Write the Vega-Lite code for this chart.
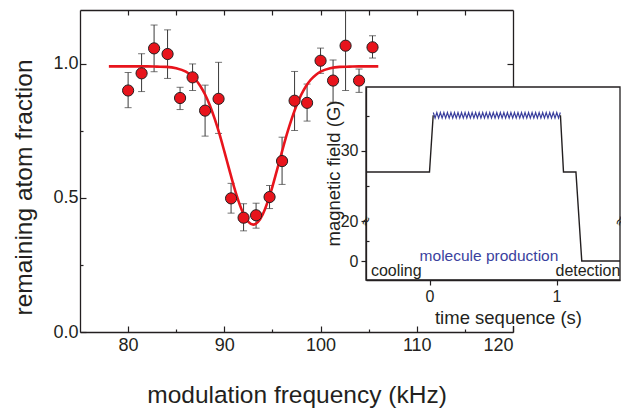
{
  "$schema": "https://vega.github.io/schema/vega-lite/v6.json",
  "width": 433,
  "height": 322,
  "autosize": {"type": "none"},
  "padding": {"left": 80, "top": 10, "right": 108, "bottom": 77},
  "background": "white",
  "config": {
    "view": {"stroke": null},
    "font": "Liberation Sans",
    "axis": {"grid": false, "domainColor": "#231f20", "tickColor": "#231f20", "labelColor": "#231f20", "titleColor": "#231f20", "titleFontWeight": "normal", "domainWidth": 1.3, "tickWidth": 1.2, "labelFont": "Liberation Sans", "titleFont": "Liberation Sans"}
  },
  "datasets": {
    "pts": [
      {"f": 80.0, "r": 0.900, "lo": 0.836, "hi": 0.967},
      {"f": 81.4, "r": 0.964, "lo": 0.896, "hi": 1.037},
      {"f": 82.7, "r": 1.057, "lo": 0.970, "hi": 1.144},
      {"f": 84.1, "r": 1.036, "lo": 0.945, "hi": 1.126},
      {"f": 85.4, "r": 0.872, "lo": 0.829, "hi": 0.912},
      {"f": 86.7, "r": 0.949, "lo": 0.900, "hi": 0.999},
      {"f": 88.0, "r": 0.825, "lo": 0.730, "hi": 0.920},
      {"f": 89.4, "r": 0.869, "lo": 0.740, "hi": 1.005},
      {"f": 90.7, "r": 0.498, "lo": 0.443, "hi": 0.554},
      {"f": 92.0, "r": 0.426, "lo": 0.377, "hi": 0.478},
      {"f": 93.3, "r": 0.435, "lo": 0.387, "hi": 0.480},
      {"f": 94.7, "r": 0.503, "lo": 0.460, "hi": 0.546},
      {"f": 96.0, "r": 0.637, "lo": 0.550, "hi": 0.726},
      {"f": 97.3, "r": 0.862, "lo": 0.751, "hi": 0.971},
      {"f": 98.6, "r": 0.854, "lo": 0.786, "hi": 0.924},
      {"f": 100.0, "r": 1.011, "lo": 0.964, "hi": 1.058},
      {"f": 101.3, "r": 0.937, "lo": 0.856, "hi": 1.014},
      {"f": 102.6, "r": 1.067, "lo": 0.900, "hi": 1.234},
      {"f": 104.0, "r": 0.937, "lo": 0.893, "hi": 0.980},
      {"f": 105.4, "r": 1.061, "lo": 1.021, "hi": 1.104}
    ],
    "fit": [
      {"f": 78, "v": 0.990}, {"f": 80, "v": 0.990}, {"f": 82, "v": 0.990}, {"f": 83, "v": 0.989},
      {"f": 84, "v": 0.988}, {"f": 85, "v": 0.983}, {"f": 86, "v": 0.970}, {"f": 86.5, "v": 0.958},
      {"f": 87, "v": 0.941}, {"f": 87.5, "v": 0.917}, {"f": 88, "v": 0.885}, {"f": 88.5, "v": 0.844},
      {"f": 89, "v": 0.794}, {"f": 89.5, "v": 0.737}, {"f": 90, "v": 0.673}, {"f": 90.5, "v": 0.607},
      {"f": 91, "v": 0.542}, {"f": 91.5, "v": 0.485}, {"f": 92, "v": 0.439}, {"f": 92.5, "v": 0.410},
      {"f": 93, "v": 0.400}, {"f": 93.5, "v": 0.410}, {"f": 94, "v": 0.439}, {"f": 94.5, "v": 0.485},
      {"f": 95, "v": 0.542}, {"f": 95.5, "v": 0.607}, {"f": 96, "v": 0.673}, {"f": 96.5, "v": 0.737},
      {"f": 97, "v": 0.794}, {"f": 97.5, "v": 0.844}, {"f": 98, "v": 0.885}, {"f": 98.5, "v": 0.917},
      {"f": 99, "v": 0.941}, {"f": 99.5, "v": 0.958}, {"f": 100, "v": 0.970}, {"f": 101, "v": 0.983},
      {"f": 102, "v": 0.988}, {"f": 103, "v": 0.989}, {"f": 104, "v": 0.990}, {"f": 106, "v": 0.990}
    ],
    "seq": [
      {"t": -0.5, "b": 27.0, "s": "a"}, {"t": 0.0, "b": 27.0, "s": "a"}, {"t": 0.029, "b": 35.1, "s": "a"},
      {"t": 1.031, "b": 35.1, "s": "b"}, {"t": 1.055, "b": 27.0, "s": "b"}, {"t": 1.153, "b": 27.0, "s": "b"},
      {"t": 1.199, "b": 0.0, "s": "b"}, {"t": 1.5, "b": 0.0, "s": "b"}
    ],
    "osc": [
      {"t": 0.0300, "b": 35.5}, {"t": 0.0439, "b": 34.7}, {"t": 0.0578, "b": 35.5}, {"t": 0.0717, "b": 34.7},
      {"t": 0.0856, "b": 35.5}, {"t": 0.0994, "b": 34.7}, {"t": 0.1133, "b": 35.5}, {"t": 0.1272, "b": 34.7},
      {"t": 0.1411, "b": 35.5}, {"t": 0.1550, "b": 34.7}, {"t": 0.1689, "b": 35.5}, {"t": 0.1828, "b": 34.7},
      {"t": 0.1967, "b": 35.5}, {"t": 0.2106, "b": 34.7}, {"t": 0.2244, "b": 35.5}, {"t": 0.2383, "b": 34.7},
      {"t": 0.2522, "b": 35.5}, {"t": 0.2661, "b": 34.7}, {"t": 0.2800, "b": 35.5}, {"t": 0.2939, "b": 34.7},
      {"t": 0.3078, "b": 35.5}, {"t": 0.3217, "b": 34.7}, {"t": 0.3356, "b": 35.5}, {"t": 0.3494, "b": 34.7},
      {"t": 0.3633, "b": 35.5}, {"t": 0.3772, "b": 34.7}, {"t": 0.3911, "b": 35.5}, {"t": 0.4050, "b": 34.7},
      {"t": 0.4189, "b": 35.5}, {"t": 0.4328, "b": 34.7}, {"t": 0.4467, "b": 35.5}, {"t": 0.4606, "b": 34.7},
      {"t": 0.4744, "b": 35.5}, {"t": 0.4883, "b": 34.7}, {"t": 0.5022, "b": 35.5}, {"t": 0.5161, "b": 34.7},
      {"t": 0.5300, "b": 35.5}, {"t": 0.5439, "b": 34.7}, {"t": 0.5578, "b": 35.5}, {"t": 0.5717, "b": 34.7},
      {"t": 0.5856, "b": 35.5}, {"t": 0.5994, "b": 34.7}, {"t": 0.6133, "b": 35.5}, {"t": 0.6272, "b": 34.7},
      {"t": 0.6411, "b": 35.5}, {"t": 0.6550, "b": 34.7}, {"t": 0.6689, "b": 35.5}, {"t": 0.6828, "b": 34.7},
      {"t": 0.6967, "b": 35.5}, {"t": 0.7106, "b": 34.7}, {"t": 0.7244, "b": 35.5}, {"t": 0.7383, "b": 34.7},
      {"t": 0.7522, "b": 35.5}, {"t": 0.7661, "b": 34.7}, {"t": 0.7800, "b": 35.5}, {"t": 0.7939, "b": 34.7},
      {"t": 0.8078, "b": 35.5}, {"t": 0.8217, "b": 34.7}, {"t": 0.8356, "b": 35.5}, {"t": 0.8494, "b": 34.7},
      {"t": 0.8633, "b": 35.5}, {"t": 0.8772, "b": 34.7}, {"t": 0.8911, "b": 35.5}, {"t": 0.9050, "b": 34.7},
      {"t": 0.9189, "b": 35.5}, {"t": 0.9328, "b": 34.7}, {"t": 0.9467, "b": 35.5}, {"t": 0.9606, "b": 34.7},
      {"t": 0.9744, "b": 35.5}, {"t": 0.9883, "b": 34.7}, {"t": 1.0022, "b": 35.5}, {"t": 1.0161, "b": 34.7},
      {"t": 1.0300, "b": 35.5}
    ],
    "box": [{"t0": -0.5, "t1": 1.5, "b0": -9.5, "b1": 39.14, "bb": -32.5}],
    "brk": [{"t": -0.5, "b": 20}, {"t": 1.5, "b": 20}],
    "lab": [
      {"t": -0.461, "b": -7.5, "label": "cooling"},
      {"t": -0.078, "b": 0.0, "label": "molecule production"},
      {"t": 0.992, "b": -7.5, "label": "detection"}
    ]
  },
  "layer": [
    {
      "layer": [
        {
          "data": {"name": "pts"},
          "mark": {"type": "rule", "clip": true, "color": "#3a3a3a", "strokeWidth": 1},
          "encoding": {
            "x": {"field": "f", "type": "quantitative", "scale": {"domain": [75, 120], "nice": false, "zero": false},
              "axis": {"orient": "bottom", "values": [80, 85, 90, 95, 100, 105, 110, 115, 120], "format": "d",
                "labelExpr": "datum.value % 10 === 0 ? datum.label : ''",
                "tickSize": {"condition": {"test": "datum.value % 10 === 0", "value": -6}, "value": -3},
                "labelFontSize": 18, "labelPadding": 10,
                "title": "modulation frequency (kHz)", "titleFontSize": 24.5, "titleY": 63, "titleBaseline": "middle"}},
            "y": {"field": "lo", "type": "quantitative", "scale": {"domain": [0, 1.2], "nice": false, "zero": false},
              "axis": {"orient": "left", "values": [0, 0.25, 0.5, 0.75, 1],
                "labelExpr": "(datum.value * 4) % 2 === 0 ? format(datum.value, '.1f') : ''",
                "tickSize": {"condition": {"test": "(datum.value * 4) % 2 === 0", "value": -6}, "value": -3},
                "labelFontSize": 18, "labelPadding": 8,
                "title": "remaining atom fraction", "titleFontSize": 24.5, "titleX": -56, "titleY": 177, "titleBaseline": "middle"}},
            "y2": {"field": "hi"}
          }
        },
        {
          "data": {"name": "pts"},
          "mark": {"type": "tick", "clip": true, "color": "#3a3a3a", "thickness": 1, "size": 7, "orient": "horizontal"},
          "encoding": {
            "x": {"field": "f", "type": "quantitative", "scale": {"domain": [75, 120], "nice": false, "zero": false},
              "axis": {"orient": "top", "values": [80, 85, 90, 95, 100, 105, 110, 115], "labels": false, "tickSize": -5, "title": null}},
            "y": {"field": "lo", "type": "quantitative", "scale": {"domain": [0, 1.2], "nice": false, "zero": false},
              "axis": {"orient": "right", "values": [0.25, 0.5, 0.75, 1], "labels": false,
                "tickSize": {"condition": {"test": "(datum.value * 4) % 2 === 0", "value": -6}, "value": -3}, "title": null}}
          }
        },
        {
          "data": {"name": "pts"},
          "mark": {"type": "tick", "clip": true, "color": "#3a3a3a", "thickness": 1, "size": 7, "orient": "horizontal"},
          "encoding": {
            "x": {"field": "f", "type": "quantitative", "scale": {"domain": [75, 120], "nice": false, "zero": false}, "axis": null},
            "y": {"field": "hi", "type": "quantitative", "scale": {"domain": [0, 1.2], "nice": false, "zero": false}, "axis": null}
          }
        },
        {
          "data": {"name": "fit"},
          "mark": {"type": "line", "color": "#e8141c", "strokeWidth": 2.6, "interpolate": "monotone"},
          "encoding": {
            "x": {"field": "f", "type": "quantitative", "scale": {"domain": [75, 120], "nice": false, "zero": false}, "axis": null},
            "y": {"field": "v", "type": "quantitative", "scale": {"domain": [0, 1.2], "nice": false, "zero": false}, "axis": null}
          }
        },
        {
          "data": {"name": "pts"},
          "mark": {"type": "circle", "size": 125, "color": "#e8141c", "stroke": "#231f20", "strokeWidth": 1, "opacity": 1},
          "encoding": {
            "x": {"field": "f", "type": "quantitative", "scale": {"domain": [75, 120], "nice": false, "zero": false}, "axis": null},
            "y": {"field": "r", "type": "quantitative", "scale": {"domain": [0, 1.2], "nice": false, "zero": false}, "axis": null}
          }
        }
      ],
      "resolve": {"axis": {"x": "independent", "y": "independent"}}
    },
    {
      "layer": [
        {
          "data": {"name": "box"},
          "mark": {"type": "rect", "fill": "white", "strokeWidth": 0},
          "encoding": {
            "x": {"field": "t0", "type": "quantitative", "scale": {"domain": [-0.5, 1.5], "range": [286, 540], "nice": false, "zero": false}, "axis": null},
            "x2": {"field": "t1"},
            "y": {"field": "bb", "type": "quantitative", "scale": {"domain": [-9.5, 20, 39.14], "range": [270, 211, 77], "nice": false, "zero": false}, "axis": null},
            "y2": {"field": "b1"}
          }
        },
        {
          "data": {"name": "box"},
          "mark": {"type": "rect", "fill": "white", "fillOpacity": 0, "stroke": "#231f20", "strokeWidth": 1.3},
          "encoding": {
            "x": {"field": "t0", "type": "quantitative", "scale": {"domain": [-0.5, 1.5], "range": [286, 540], "nice": false, "zero": false},
              "axis": {"orient": "bottom", "offset": -52, "zindex": 1, "values": [0, 0.5, 1], "format": "d",
                "labelExpr": "datum.value % 1 === 0 ? datum.label : ''",
                "tickSize": {"condition": {"test": "datum.value % 1 === 0", "value": 5}, "value": 3},
                "labelFontSize": 16, "labelPadding": 3,
                "title": "time sequence (s)", "titleFontSize": 18.5, "titleX": 428, "titleY": 37, "titleBaseline": "middle"}},
            "x2": {"field": "t1"},
            "y": {"field": "b0", "type": "quantitative", "scale": {"domain": [-9.5, 20, 39.14], "range": [270, 211, 77], "nice": false, "zero": false},
              "axis": {"orient": "left", "offset": -286, "zindex": 1, "values": [0, 10, 20, 25, 30, 35], "format": "d",
                "labelExpr": "(datum.value === 0 || datum.value === 20 || datum.value === 30) ? datum.label : ''",
                "tickSize": {"condition": {"test": "datum.value === 0 || datum.value === 20 || datum.value === 30", "value": 5}, "value": -3},
                "labelFontSize": 16, "labelPadding": 3,
                "title": "magnetic field (G)", "titleFontSize": 18.5, "titleX": -33, "titleY": 163, "titleBaseline": "middle"}},
            "y2": {"field": "b1"}
          }
        },
        {
          "data": {"name": "brk"},
          "mark": {"type": "text", "text": "≈", "fontSize": 13, "angle": 300, "align": "center", "baseline": "middle", "color": "#231f20", "font": "DejaVu Sans"},
          "encoding": {
            "x": {"field": "t", "type": "quantitative", "scale": {"domain": [-0.5, 1.5], "range": [286, 540], "nice": false, "zero": false}, "axis": null},
            "y": {"field": "b", "type": "quantitative", "scale": {"domain": [-9.5, 20, 39.14], "range": [270, 211, 77], "nice": false, "zero": false}, "axis": null}
          }
        },
        {
          "data": {"name": "seq"},
          "mark": {"type": "line", "color": "#231f20", "strokeWidth": 1.4},
          "encoding": {
            "x": {"field": "t", "type": "quantitative", "scale": {"domain": [-0.5, 1.5], "range": [286, 540], "nice": false, "zero": false}, "axis": null},
            "y": {"field": "b", "type": "quantitative", "scale": {"domain": [-9.5, 20, 39.14], "range": [270, 211, 77], "nice": false, "zero": false}, "axis": null},
            "detail": {"field": "s"},
            "order": {"field": "t"}
          }
        },
        {
          "data": {"name": "osc"},
          "mark": {"type": "line", "color": "#3a3f9e", "strokeWidth": 1.2},
          "encoding": {
            "x": {"field": "t", "type": "quantitative", "scale": {"domain": [-0.5, 1.5], "range": [286, 540], "nice": false, "zero": false}, "axis": null},
            "y": {"field": "b", "type": "quantitative", "scale": {"domain": [-9.5, 20, 39.14], "range": [270, 211, 77], "nice": false, "zero": false}, "axis": null},
            "order": {"field": "t"}
          }
        },
        {
          "data": {"name": "lab"},
          "mark": {"type": "text", "align": "left", "baseline": "alphabetic", "font": "Liberation Sans"},
          "encoding": {
            "x": {"field": "t", "type": "quantitative", "scale": {"domain": [-0.5, 1.5], "range": [286, 540], "nice": false, "zero": false}, "axis": null},
            "y": {"field": "b", "type": "quantitative", "scale": {"domain": [-9.5, 20, 39.14], "range": [270, 211, 77], "nice": false, "zero": false}, "axis": null},
            "text": {"field": "label"},
            "color": {"condition": {"test": "datum.label === 'molecule production'", "value": "#3a3f9e"}, "value": "#231f20"},
            "size": {"condition": {"test": "datum.label === 'molecule production'", "value": 15.5}, "value": 16}
          }
        }
      ],
      "resolve": {"axis": {"x": "independent", "y": "independent"}}
    }
  ],
  "resolve": {"scale": {"x": "independent", "y": "independent"}, "axis": {"x": "independent", "y": "independent"}}
}
